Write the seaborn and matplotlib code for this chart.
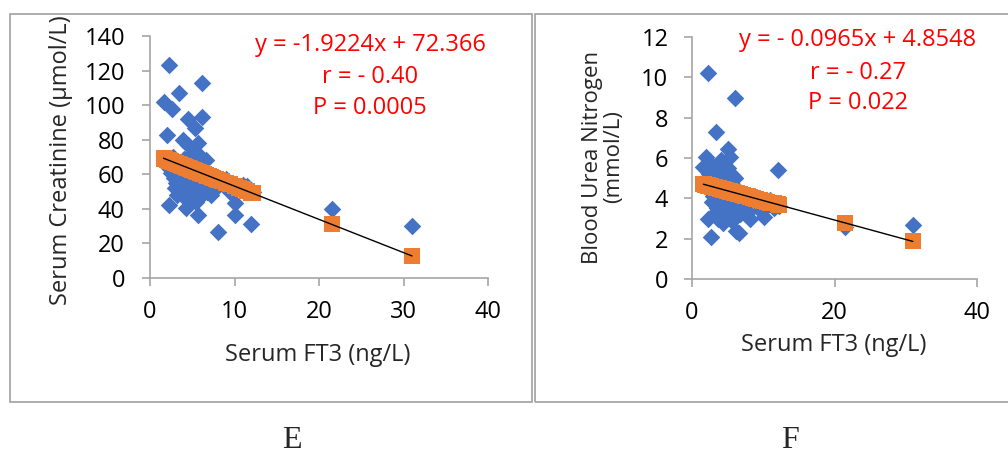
import numpy as np
import pandas as pd
import matplotlib
matplotlib.use("Agg")
import matplotlib.pyplot as plt
from matplotlib.patches import Rectangle
import seaborn as sns

# ---------------- data ----------------
ft3 = [2.2, 6.1, 3.4, 1.6, 2.6, 4.5, 5.3, 6.2, 2.0, 3.9, 5.7, 5.1, 6.6, 2.5, 7.2, 2.3,
       4.3, 5.7, 10.0, 10.1, 12.0, 8.1, 21.5, 31.0,
       1.8, 2.4, 2.8, 3.0, 3.1, 3.2, 3.3, 3.5, 3.6, 3.7, 3.8, 4.0, 4.1, 4.2, 4.4, 4.6,
       4.7, 4.8, 4.9, 5.0, 5.2, 5.4, 5.5, 5.6, 5.8, 5.9, 6.0, 6.3, 6.4, 6.8, 7.0, 7.5,
       7.8, 8.5, 9.0, 9.5, 10.5, 11.0, 11.5, 12.2, 3.0, 4.0, 4.5, 5.0, 2.7, 1.7]
creatinine = [123, 113, 107, 102, 98, 92, 87, 93, 83, 80, 78, 74, 68.5, 61, 48, 42,
              40.5, 36.7, 43.4, 36.7, 31.3, 26.4, 40, 30,
              66, 64, 58, 52, 55, 48, 63, 50, 57, 53, 60, 47, 55, 62, 51, 45,
              58, 53, 66, 49, 56, 60, 44, 52, 64, 47, 70, 55, 59, 50, 58, 54,
              52, 55, 57, 50, 52, 54, 53, 50, 67, 69, 77, 72, 70, 68]
bun = [10.2, 9.0, 7.3, 5.57, 2.07, 4.5, 6.03, 2.4, 6.07, 5.7, 5.12, 6.45, 2.26, 4.9, 3.3, 2.98,
       2.8, 3.6, 3.4, 3.06, 5.42, 2.98, 2.6, 2.7,
       4.6, 5.2, 3.8, 4.1, 3.2, 4.3, 5.1, 3.5, 4.8, 3.0, 4.4, 3.7, 5.0, 3.3, 4.2, 3.9,
       4.7, 3.4, 5.3, 3.6, 4.0, 3.1, 4.5, 2.9, 3.8, 4.6, 5.0, 3.5, 4.1, 3.2, 3.9, 3.6,
       3.3, 4.0, 3.8, 3.4, 3.7, 3.9, 3.5, 3.6, 5.6, 5.9, 4.9, 5.5, 4.4, 4.7]

# regression equations shown on the chart
crea_slope, crea_intercept = -1.9224, 72.366
bun_slope, bun_intercept = -0.0965, 4.8548

crea_text = ["y = -1.9224x + 72.366", "r = - 0.40", "P = 0.0005"]
bun_text = ["y = - 0.0965x + 4.8548", "r = - 0.27", "P = 0.022"]

crea_yticks = [0, 20, 40, 60, 80, 100, 120, 140]
crea_xticks = [0, 10, 20, 30, 40]
bun_yticks = [0, 2, 4, 6, 8, 10, 12]
bun_xticks = [0, 20, 40]

panel_labels = ["E", "F"]

# ---------------- style ----------------
sns.set_style("white")
plt.rcParams['font.family'] = ['Open Sans', 'DejaVu Sans']

BLUE = "#4472C4"
ORANGE = "#ED7D31"
AXCOL = "#A6A6A6"
FS = 17

df = pd.DataFrame({"ft3": ft3, "crea": creatinine, "bun": bun})
df["crea_pred"] = crea_intercept + crea_slope * df["ft3"]
df["bun_pred"] = bun_intercept + bun_slope * df["ft3"]

fig = plt.figure(figsize=(10.08, 4.55), dpi=100)

# frames
fig.add_artist(Rectangle((10 / 1008, 1 - 402 / 455), 522 / 1008, 388 / 455,
                         transform=fig.transFigure, fill=False, edgecolor="#A0A0A0", lw=1.2))
fig.add_artist(Rectangle((535 / 1008, 1 - 402 / 455), 480 / 1008, 388 / 455,
                         transform=fig.transFigure, fill=False, edgecolor="#A0A0A0", lw=1.2))

axE = fig.add_axes([150 / 1008, 1 - 278 / 455, 338 / 1008, 242 / 455])
axF = fig.add_axes([692 / 1008, 1 - 279 / 455, 285 / 1008, 242 / 455])


def draw(ax, ycol, predcol, xticks, yticks, ylabel, ylab_fs, texts, tx, tys,
         xlab_xy, ylab_xy, ypad):
    sns.scatterplot(data=df, x="ft3", y=ycol, ax=ax, marker="D", s=80,
                    color=BLUE, linewidth=0, zorder=2)
    sns.scatterplot(data=df, x="ft3", y=predcol, ax=ax, marker="s", s=120,
                    color=ORANGE, linewidth=0, zorder=3)
    i0, i1 = df["ft3"].idxmin(), df["ft3"].idxmax()
    sns.lineplot(x=[df["ft3"][i0], df["ft3"][i1]], y=[df[predcol][i0], df[predcol][i1]],
                 ax=ax, color="black", lw=1, zorder=4)
    ax.set_xlim(xticks[0], xticks[-1])
    ax.set_ylim(yticks[0], yticks[-1])
    ax.set_xticks(xticks)
    ax.set_yticks(yticks)
    for s in ["top", "right"]:
        ax.spines[s].set_visible(False)
    for s in ["left", "bottom"]:
        ax.spines[s].set_color(AXCOL)
        ax.spines[s].set_linewidth(1.2)
    ax.tick_params(axis="both", which="both", length=6, width=1.2, color=AXCOL,
                   labelsize=FS, direction="out", labelcolor="black",
                   bottom=True, left=True)
    ax.tick_params(axis="x", pad=10)
    ax.tick_params(axis="y", pad=ypad)
    ax.set_xlabel("Serum FT3 (ng/L)", fontsize=FS, va="center", ha="center")
    ax.xaxis.set_label_coords(*xlab_xy)
    ax.set_ylabel(ylabel, fontsize=ylab_fs, va="center", ha="center", linespacing=1.05)
    ax.yaxis.set_label_coords(*ylab_xy)
    for t, yy in zip(texts, tys):
        ax.text(tx, yy, t, transform=ax.transAxes, color="red", fontsize=FS,
                ha="center", va="center")


draw(axE, "crea", "crea_pred", crea_xticks, crea_yticks,
     "Serum Creatinine (\u03bcmol/L)", 17, crea_text, 0.651, [0.963, 0.831, 0.702],
     (0.497, -0.318), (-0.262, 0.485), 12)
draw(axF, "bun", "bun_pred", bun_xticks, bun_yticks,
     "Blood Urea Nitrogen\n(mmol/L)", 16, bun_text, 0.581, [0.988, 0.851, 0.727],
     (0.496, -0.273), (-0.312, 0.504), 11)

fig.text(292 / 1008, 1 - 441 / 455, panel_labels[0], fontsize=23,
         family="Liberation Serif", ha="center", va="center")
fig.text(790 / 1008, 1 - 441 / 455, panel_labels[1], fontsize=23,
         family="Liberation Serif", ha="center", va="center")

fig.savefig("out.png", dpi=100)
